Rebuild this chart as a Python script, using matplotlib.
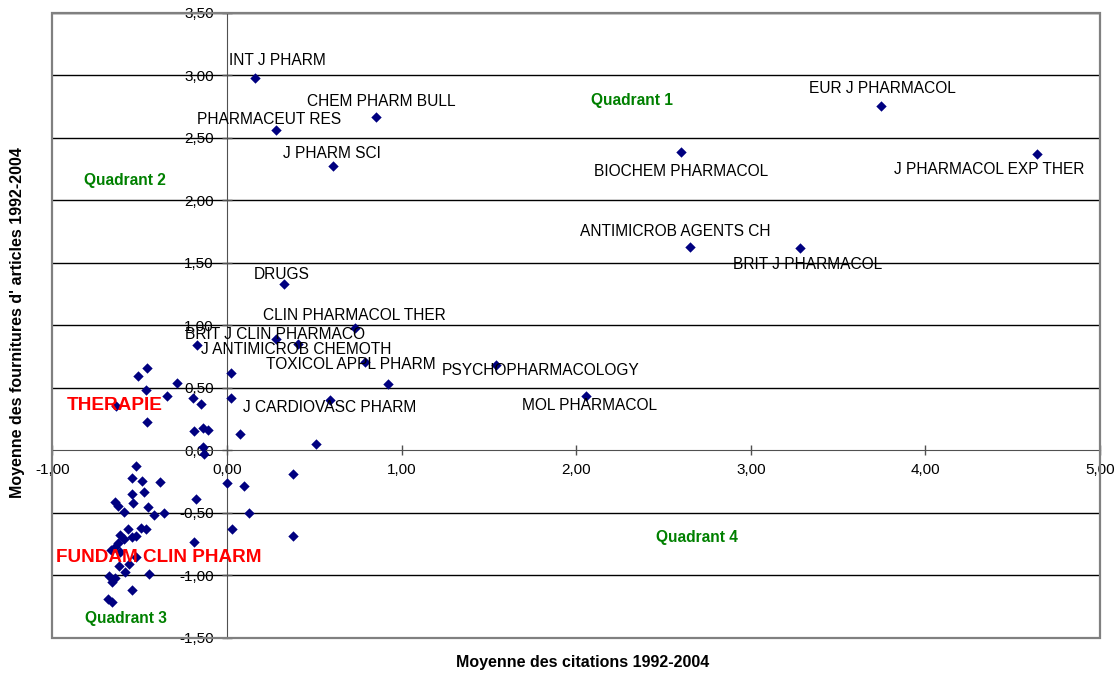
import matplotlib
matplotlib.use("Agg")
import matplotlib.pyplot as plt
from matplotlib.ticker import FuncFormatter, MultipleLocator
from matplotlib.patches import Rectangle

# ---------------- data ----------------
journals = ["INT J PHARM", "CHEM PHARM BULL", "PHARMACEUT RES", "J PHARM SCI",
            "EUR J PHARMACOL", "BIOCHEM PHARMACOL", "J PHARMACOL EXP THER",
            "ANTIMICROB AGENTS CH", "BRIT J PHARMACOL", "DRUGS",
            "CLIN PHARMACOL THER", "BRIT J CLIN PHARMACO", "J ANTIMICROB CHEMOTH",
            "TOXICOL APPL PHARM", "PSYCHOPHARMACOLOGY", "J CARDIOVASC PHARM",
            "MOL PHARMACOL"]
journal_x = [0.16, 0.852, 0.279, 0.604, 3.745, 2.60, 4.637, 2.651, 3.282, 0.327,
             0.734, 0.28, 0.407, 0.791, 1.538, 0.589, 2.057]
journal_y = [2.98, 2.67, 2.564, 2.276, 2.759, 2.385, 2.37, 1.624, 1.616, 1.328,
             0.98, 0.887, 0.847, 0.708, 0.681, 0.40, 0.435]

other_x = [-0.174, -0.46, -0.51, -0.288, -0.464, -0.346, -0.197, -0.147, -0.636,
           0.025, 0.021, -0.457, -0.189, -0.14, -0.111, 0.075, 0.51, -0.14,
           -0.132, 0.376, 0.924, 0.376,
           -0.522, -0.543, -0.49, -0.383, 0.002, 0.099, -0.543, -0.476, -0.177,
           -0.642, -0.625, -0.54, -0.454, -0.589, -0.421, -0.359, 0.124, -0.492,
           -0.467, -0.568, 0.03, -0.612, -0.519, -0.543, -0.591, -0.627, -0.187,
           -0.641, -0.664, -0.614, -0.52, -0.618, -0.559, -0.585, -0.448, -0.677,
           -0.642, -0.662, -0.547, -0.681, -0.658]
other_y = [0.84, 0.66, 0.59, 0.54, 0.48, 0.435, 0.414, 0.366, 0.355,
           0.62, 0.42, 0.227, 0.152, 0.18, 0.16, 0.13, 0.05, 0.027,
           -0.032, -0.187, 0.53, -0.69,
           -0.126, -0.224, -0.248, -0.256, -0.262, -0.283, -0.347, -0.331, -0.39,
           -0.414, -0.446, -0.422, -0.454, -0.491, -0.523, -0.502, -0.505, -0.62,
           -0.63, -0.633, -0.633, -0.68, -0.686, -0.699, -0.713, -0.74, -0.737,
           -0.775, -0.796, -0.815, -0.855, -0.927, -0.913, -0.978, -0.988, -1.01,
           -1.026, -1.055, -1.122, -1.191, -1.212]

# label layout (left x, centre y in data units)
label_pos = [(0.011, 3.119), (0.459, 2.791), (-0.170, 2.650), (0.322, 2.377),
             (3.335, 2.893), (2.101, 2.228), (3.822, 2.244), (2.023, 1.749),
             (2.90, 1.490), (0.154, 1.410), (0.204, 1.076), (-0.240, 0.927),
             (-0.150, 0.807), (0.223, 0.689), (1.228, 0.641), (0.093, 0.342),
             (1.692, 0.361)]

quadrants = ["Quadrant 1", "Quadrant 2", "Quadrant 3", "Quadrant 4"]
quad_pos = [(2.32, 2.80), (-0.583, 2.158), (-0.58, -1.349), (2.69, -0.70)]

# ---------------- figure ----------------
plt.rcParams['font.family'] = ['Liberation Sans', 'DejaVu Sans']
fig = plt.figure(figsize=(11.17, 6.77), dpi=100)
ax = fig.add_axes([0.047, 0.0583, 0.9378, 0.9225])

ax.set_xlim(-1, 5)
ax.set_ylim(-1.5, 3.5)

# gridlines (horizontal)
for yv in [-1.5, -1.0, -0.5, 0.5, 1.0, 1.5, 2.0, 2.5, 3.0, 3.5]:
    ax.axhline(yv, color='black', lw=1.0, zorder=1)

ax.scatter(other_x, other_y, marker='D', s=28, color='#000080', zorder=3, linewidths=0)
ax.scatter(journal_x, journal_y, marker='D', s=28, color='#000080', zorder=3, linewidths=0)

for name, (lx, ly) in zip(journals, label_pos):
    ax.text(lx, ly, name, fontsize=11.2, ha='left', va='center', color='black', zorder=4)

for q, (qx, qy) in zip(quadrants, quad_pos):
    ax.text(qx, qy, q, fontsize=11.2, fontweight='bold', color='#008000',
            ha='center', va='center', zorder=4)

ax.text(-0.643, 0.36, "THERAPIE", fontsize=13.7, fontweight='bold', color='#ff0000',
        ha='center', va='center', zorder=5)
ax.text(-0.39, -0.86, "FUNDAM CLIN PHARM", fontsize=13.6, fontweight='bold',
        color='#ff0000', ha='center', va='center', zorder=5)

# axes crossing at zero
for side in ['top', 'right']:
    ax.spines[side].set_visible(False)
ax.spines['left'].set_position(('data', 0))
ax.spines['bottom'].set_position(('data', 0))
ax.spines['left'].set_color('#505050')
ax.spines['bottom'].set_color('#505050')
ax.spines['left'].set_zorder(2)
ax.spines['bottom'].set_zorder(2)
ax.add_patch(Rectangle((0, 0), 1, 1, transform=ax.transAxes, fill=False,
                       edgecolor='#808080', lw=1.6, zorder=6, clip_on=False))

ax.xaxis.set_major_locator(MultipleLocator(1.0))
ax.yaxis.set_major_locator(MultipleLocator(0.5))
fmt = FuncFormatter(lambda v, p: f"{v:.2f}".replace('.', ','))
ax.xaxis.set_major_formatter(fmt)
ax.yaxis.set_major_formatter(fmt)
ax.tick_params(axis='both', direction='inout', length=7, width=1, color='#505050',
               labelsize=11, labelcolor='black')
ax.tick_params(axis='y', pad=6)
ax.tick_params(axis='x', pad=6)

fig.text(583 / 1117, 1 - 662 / 677, "Moyenne des citations 1992-2004", fontsize=11.5,
         fontweight='bold', ha='center', va='center')
fig.text(18 / 1117, 1 - 323 / 677, "Moyenne des fournitures d' articles 1992-2004",
         fontsize=11.5, fontweight='bold', ha='center', va='center', rotation=90)

fig.savefig("out.png", dpi=100)
